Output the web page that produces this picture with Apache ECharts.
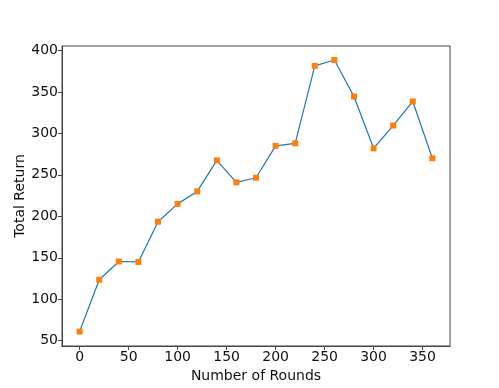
<!DOCTYPE html>
<html>
<head>
<meta charset="utf-8">
<script src="https://cdn.jsdelivr.net/npm/echarts@6/dist/echarts.min.js"></script>
<style>html,body{margin:0;padding:0;background:#fff}#c{width:499px;height:388px}</style>
</head>
<body>
<div id="c"></div>
<script>
const rounds = [0,20,40,60,80,100,120,140,160,180,200,220,240,260,280,300,320,340,360];
const totalReturn = [61,123.5,145.5,145,193.5,215,230,267.5,241,246.5,285,288,381.5,388.5,344.5,282,309.5,338.5,270];
const xTicks = [0,50,100,150,200,250,300,350];
const yTicks = [50,100,150,200,250,300,350,400];

const font = 'DejaVu Sans';
const axisCol = '#444';
const fs = 14;
const chart = echarts.init(document.getElementById('c'));
chart.setOption({
  animation: false,
  backgroundColor: '#fff',
  grid: {left: 62, right: 49, top: 46, bottom: 42, show: true, borderColor: axisCol, borderWidth: 1},
  xAxis: {
    type: 'value', min: -18, max: 378,
    name: 'Number of Rounds', nameLocation: 'middle', nameGap: 22,
    nameTextStyle: {fontFamily: font, fontSize: fs, color: '#111'},
    axisLine: {show: true, onZero: false, lineStyle: {color: axisCol, width: 1}},
    axisTick: {show: true, length: 4, customValues: xTicks, lineStyle: {color: axisCol}},
    axisLabel: {customValues: xTicks, fontFamily: font, fontSize: fs, color: '#111', margin: 4},
    splitLine: {show: false}
  },
  yAxis: {
    type: 'value', min: 43.6, max: 405.4,
    name: 'Total Return', nameLocation: 'middle', nameGap: 35, nameMoveOverlap: false,
    nameTextStyle: {fontFamily: font, fontSize: fs, color: '#111'},
    axisLine: {show: true, onZero: false, lineStyle: {color: axisCol, width: 1}},
    axisTick: {show: true, length: 4, customValues: yTicks, lineStyle: {color: axisCol}},
    axisLabel: {customValues: yTicks, fontFamily: font, fontSize: fs, color: '#111', margin: 4},
    splitLine: {show: false}
  },
  series: [{
    type: 'line',
    data: rounds.map((r, i) => [r, totalReturn[i]]),
    lineStyle: {color: '#1f77b4', width: 1.2},
    symbol: 'rect', symbolSize: 6,
    itemStyle: {color: '#ff7f0e', borderWidth: 0},
    z: 3
  }]
});
</script>
</body>
</html>
